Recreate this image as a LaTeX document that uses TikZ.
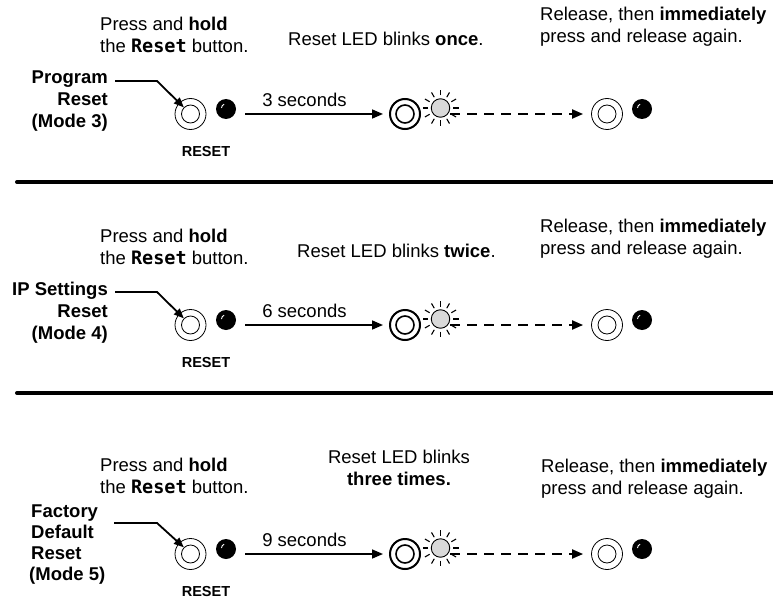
\documentclass[tikz,border=0pt]{standalone}
\usepackage{fontspec}
\setmainfont{Liberation Sans}
\newfontfamily\btnfont{DejaVu Sans Mono}
\usetikzlibrary{positioning,arrows.meta}

\begin{document}
\begin{tikzpicture}[x=1pt,y=-1pt,
  txt/.style={font=\fontsize{18.5}{22}\selectfont,inner sep=0pt,align=left},
  modetxt/.style={txt,font=\fontsize{18.5}{22}\selectfont\bfseries},
  btnlabel/.style={inner sep=0pt,font=\fontsize{14.5}{16}\selectfont\bfseries},
  ring/.style={circle,draw,line width=0.8pt,minimum size=31pt,inner sep=0pt},
  core/.style={circle,draw,line width=0.8pt,minimum size=18pt,inner sep=0pt},
  heldring/.style={ring,line width=2pt,minimum size=30pt},
  heldcore/.style={core,line width=1.6pt},
  led/.style={circle,fill=black,minimum size=20pt,inner sep=0pt,
    path picture={\draw[white,line width=0.9pt]
      ([shift={(-4.5pt,1pt)}]path picture bounding box.center)
      arc[start angle=180,end angle=110,radius=4pt];}},
  sun/.style={circle,draw,fill=black!15,line width=0.9pt,minimum size=18.5pt,inner sep=0pt},
  push/.style={-{Triangle[length=11pt,width=9pt]},line width=1.6pt},
  wait/.style={push,line width=2pt,dash pattern=on 10pt off 7pt},
  lead/.style={-{Triangle[length=10pt,width=8pt]},line width=1.8pt},
  rule/.style={line width=4pt,line cap=round}
]
\useasboundingbox (0,0) rectangle (773,599);

% ---- the three rows: button, LEDs, arrows ----
\foreach \i/\dy/\secs in {1/0/3, 2/211/6, 3/440/9}{
  \node[ring] (btn\i) at (190.5,114+\dy) {};
  \node[core] (core\i) at (btn\i.center) {};
  \node[led] (led\i) at (226,109+\dy) {};
  \node[btnlabel,anchor=base] (reset\i) at (206,156+\dy) {RESET};
  \node[heldring] (hold\i) at (405,114+\dy) {};
  \node[heldcore] (heldcore\i) at (hold\i.center) {};
  \node[sun] (sun\i) at (440.5,108+\dy) {};
  \foreach \a in {0,30,...,330}
    \draw[line width=1.1pt] ([shift={(\a:12.5pt)}]sun\i.center) -- ([shift={(\a:18pt)}]sun\i.center);
  \node[ring] (end\i) at (607,114+\dy) {};
  \node[core] (endcore\i) at (end\i.center) {};
  \node[led] (endled\i) at (642,109+\dy) {};
  \draw[push] ([xshift=9pt]led\i.east |- btn\i.center) -- ([xshift=-6pt]hold\i.west)
    node[pos=0.43,above=7pt,txt] {\secs\ seconds};
  \draw[wait] (sun\i.east |- btn\i.center) -- ([xshift=-8pt]end\i.west);
}

% ---- row 1 ----
\node[txt,anchor=base west] (press1) at (100,53) {Press and \textbf{hold}\\the {\btnfont\bfseries Reset} button.};
\node[txt,anchor=base west] (blink1) at (288,46) {Reset LED blinks \textbf{once}.};
\node[txt,anchor=base west] (again1) at (540,43) {Release, then \textbf{immediately}\\press and release again.};
\node[modetxt,align=right,anchor=base east] (mode3) at (108,128) {Program\\Reset\\(Mode 3)};
\coordinate (tail1) at (115,81);
\draw[lead] (tail1) -- ++(42,0) -- (core1.north west);

\draw[rule] (17,182) -- (773,182);

% ---- row 2 ----
\node[txt,anchor=base west] (press2) at (100,264) {Press and \textbf{hold}\\the {\btnfont\bfseries Reset} button.};
\node[txt,anchor=base west] (blink2) at (297,257) {Reset LED blinks \textbf{twice}.};
\node[txt,anchor=base west] (again2) at (540,254) {Release, then \textbf{immediately}\\press and release again.};
\node[modetxt,align=right,anchor=base east] (mode4) at (108,339) {IP Settings\\Reset\\(Mode 4)};
\coordinate (tail2) at (115,292);
\draw[lead] (tail2) -- ++(42,0) -- (core2.north west);

\draw[rule] (17,393) -- (773,393);

% ---- row 3 ----
\node[txt,anchor=base west] (press3) at (100,493) {Press and \textbf{hold}\\the {\btnfont\bfseries Reset} button.};
\node[txt,align=center,anchor=base] (blink3) at (399,485) {Reset LED blinks\\\textbf{three times.}};
\node[txt,anchor=base west] (again3) at (541,494) {Release, then \textbf{immediately}\\press and release again.};
\node[modetxt,font=\fontsize{18.5}{21}\selectfont\bfseries,anchor=base west] (mode5) at (31,580)
  {Factory\\Default\\Reset\\\hspace*{-2pt}(Mode 5)};
\coordinate (tail3) at (114,523);
\draw[lead] (tail3) -- ++(43,0) -- (core3.north west);
\end{tikzpicture}
\end{document}
